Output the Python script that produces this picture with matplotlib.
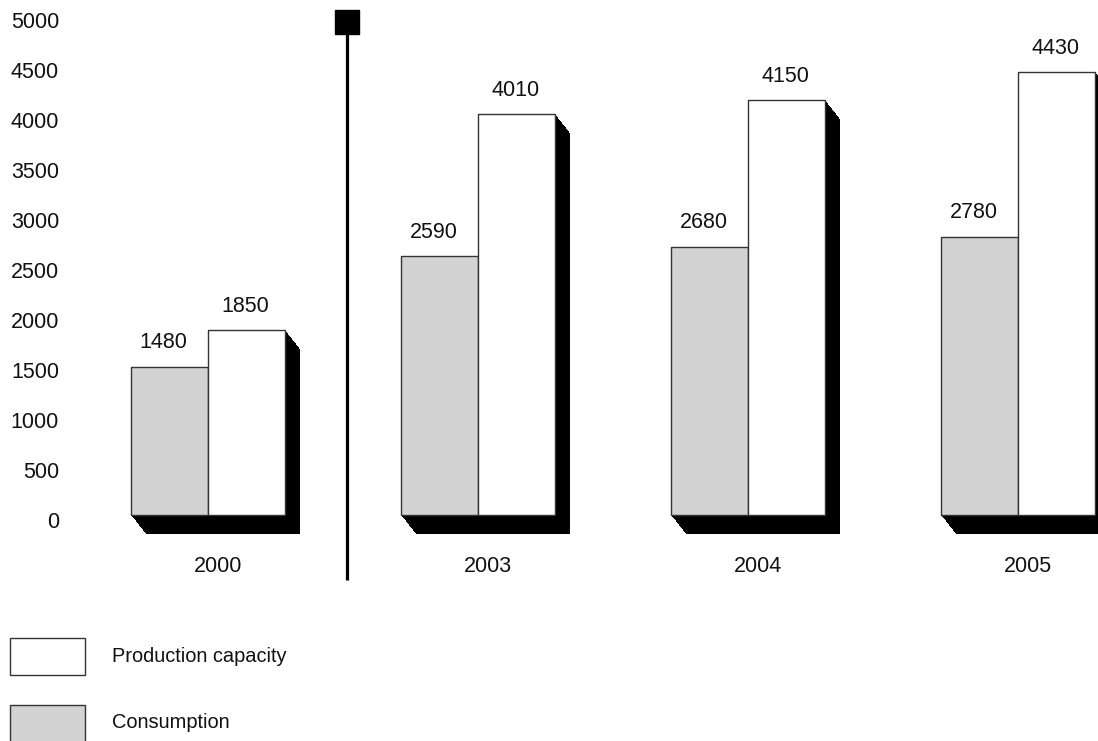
import matplotlib
matplotlib.use("Agg")
import matplotlib.pyplot as plt
from matplotlib.patches import Rectangle
from matplotlib.transforms import ScaledTranslation
import numpy as np

years = ["2000", "2003", "2004", "2005"]
consumption = [1480, 2590, 2680, 2780]
capacity = [1850, 4010, 4150, 4430]
yticks = [0, 500, 1000, 1500, 2000, 2500, 3000, 3500, 4000, 4500, 5000]
legend_labels = ["Production capacity", "Consumption"]

plt.rcParams['font.family'] = ['Liberation Sans', 'DejaVu Sans']
W, H = 1098, 741
fig = plt.figure(figsize=(W / 100, H / 100), dpi=100)
ax = fig.add_axes([0, 1 - 515 / H, 1, 500 / H])
ax.set_ylim(0, 5000)
ax.set_xlim(-208 / 270, 890 / 270)
ax.axis('off')

bw = 77 / 270
gray = '#d3d3d3'
edge = '#333333'
txt = '#111111'
dx, dy = 15, 19
nfs = 15.5

x = np.arange(len(years))
# shadows (extrusion sweep)
for t in np.linspace(0.02, 1, 50):
    tr = ax.transData + ScaledTranslation(dx * t / 100, -dy * t / 100, fig.dpi_scale_trans)
    for i in range(len(years)):
        ax.add_patch(Rectangle((x[i], 0), bw, capacity[i], facecolor='black',
                               edgecolor='none', transform=tr, clip_on=False, zorder=1))
        ax.add_patch(Rectangle((x[i] - bw, 0), bw, consumption[i], facecolor='black',
                               edgecolor='none', transform=tr, clip_on=False, zorder=1))

ax.bar(x - bw / 2, consumption, width=bw, color=gray, edgecolor=edge, linewidth=1,
       zorder=3, clip_on=False)
ax.bar(x + bw / 2, capacity, width=bw, color='white', edgecolor=edge, linewidth=1,
       zorder=3, clip_on=False)

for i in range(len(years)):
    ax.annotate(str(consumption[i]), (x[i] - bw / 2, consumption[i]), xytext=(-6, 24),
                textcoords='offset pixels', ha='center', va='center', fontsize=nfs, color=txt)
    ax.annotate(str(capacity[i]), (x[i] + bw / 2, capacity[i]), xytext=(-1, 24),
                textcoords='offset pixels', ha='center', va='center', fontsize=nfs, color=txt)
    ax.annotate(years[i], (x[i], 0), xytext=(10, -52), textcoords='offset pixels',
                ha='center', va='center', fontsize=nfs, color=txt, annotation_clip=False)

# y tick labels
for v in yticks:
    ax.annotate(str(v), (-208 / 270, v), xytext=(59, -8), textcoords='offset pixels',
                ha='right', va='center', fontsize=nfs, color=txt, annotation_clip=False)

# separator line with square
sep_x = 0.515
ax.plot([sep_x, sep_x], [-650, 4810], color='black', linewidth=2.3, clip_on=False, zorder=4,
        solid_capstyle='butt')
ax.plot([sep_x], [4930], marker='s', markersize=17.3, color='black', clip_on=False, zorder=5)

# legend
fig.patches.append(Rectangle((10 / W, 1 - 675 / H), 75 / W, 37 / H, facecolor='white',
                             edgecolor=edge, linewidth=1, transform=fig.transFigure))
fig.patches.append(Rectangle((10 / W, 1 - 745 / H), 75 / W, 40 / H, facecolor=gray,
                             edgecolor=edge, linewidth=1, transform=fig.transFigure))
fig.text(112 / W, 1 - 657 / H, legend_labels[0], fontsize=14.4, va='center', ha='left', color=txt)
fig.text(112 / W, 1 - 723 / H, legend_labels[1], fontsize=14.4, va='center', ha='left', color=txt)

fig.savefig('out.png', dpi=100, facecolor='white')
